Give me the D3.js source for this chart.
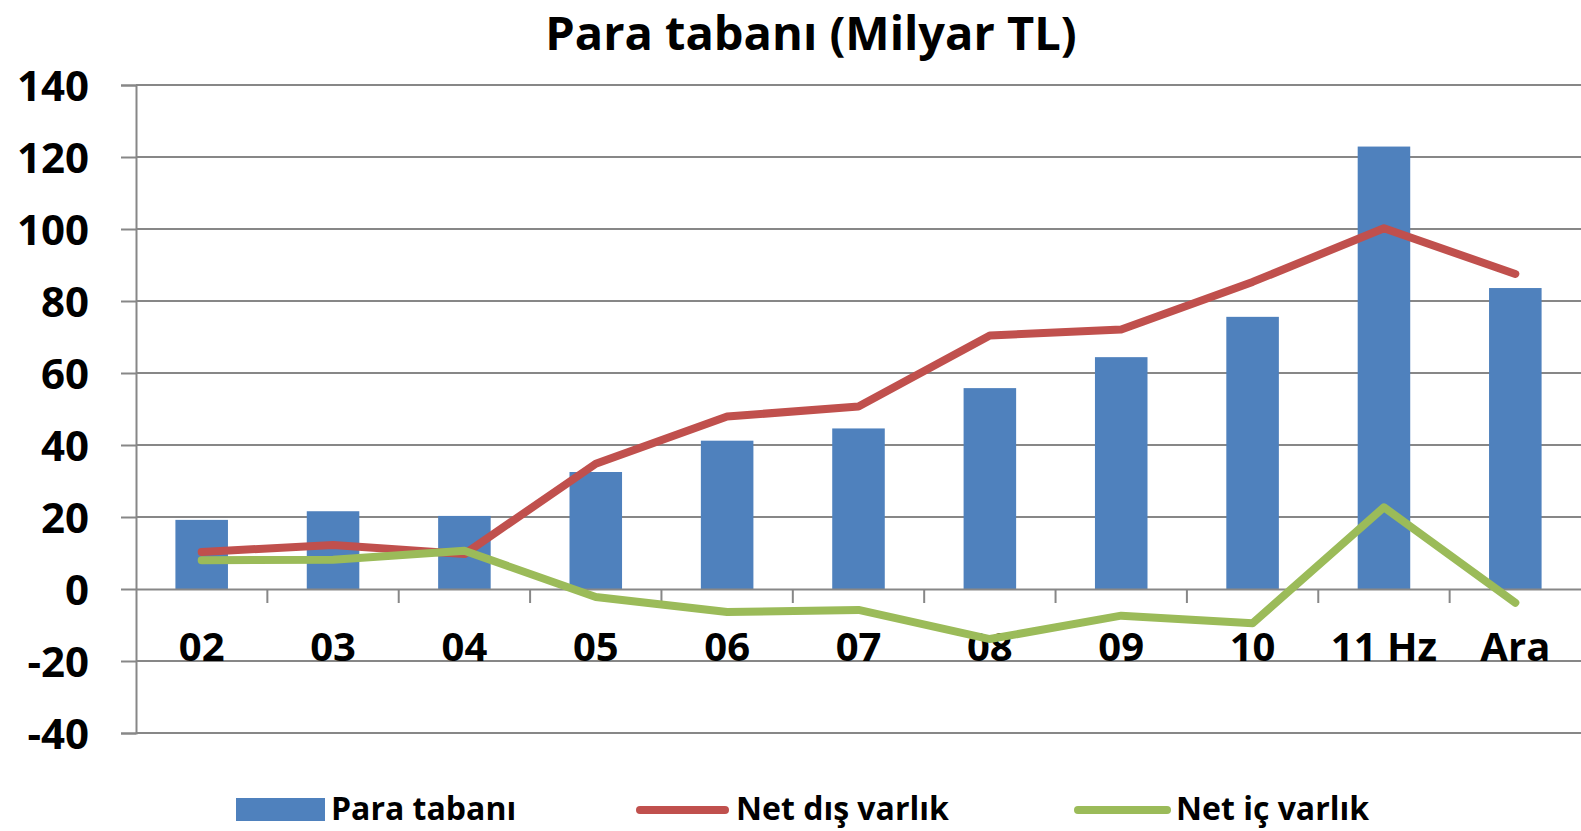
<!DOCTYPE html>
<meta charset="utf-8">
<head>
  <script src="https://d3js.org/d3.v7.min.js"></script>
  <style>
    body { margin: 0; background: #fff; }
    text { font-family: "Open Sans", sans-serif; font-weight: bold; fill: #000; }
  </style>
</head>
<body>
  <div id="chart"></div>
  <script>
    // data
    var categories = ["02", "03", "04", "05", "06", "07", "08", "09", "10", "11 Hz", "Ara"];
    var paraTabani = [19.2, 21.6, 20.3, 32.5, 41.2, 44.6, 55.8, 64.4, 75.6, 122.9, 83.6];
    var netDis = [10.3, 12.2, 9.7, 34.8, 47.9, 50.7, 70.4, 72.1, 85.3, 100.2, 87.5];
    var netIc = [8.0, 8.1, 10.6, -2.2, -6.4, -5.8, -13.9, -7.4, -9.5, 22.7, -3.8];
    var yTicks = [-40, -20, 0, 20, 40, 60, 80, 100, 120, 140];

    var W = 1581, H = 831;
    var margin = { top: 85, right: 0, bottom: 98, left: 136 };

    var svg = d3.select("#chart").append("svg")
      .attr("width", W).attr("height", H);

    var x = d3.scaleBand()
      .domain(categories)
      .range([margin.left, W - margin.right])
      .padding(0);

    var y = d3.scaleLinear()
      .domain([-40, 140])
      .range([H - margin.bottom, margin.top]);

    var gridColor = "#878787";

    // title
    svg.append("text")
      .attr("x", 811).attr("y", 50)
      .attr("text-anchor", "middle")
      .style("font-size", "47px")
      .text("Para tabanı (Milyar TL)");

    // y axis
    var yAxis = svg.append("g")
      .attr("transform", "translate(" + margin.left + ",0)")
      .call(d3.axisLeft(y).tickValues(yTicks).tickSize(15).tickPadding(32)
        .tickFormat(function (d) { return String(d); }));
    yAxis.select(".domain").attr("stroke", gridColor).attr("stroke-width", 2);
    yAxis.selectAll(".tick line").attr("stroke", gridColor).attr("stroke-width", 2);
    yAxis.selectAll(".tick text").style("font-size", "42px").attr("dy", "0.36em");

    // horizontal gridlines
    svg.append("g").selectAll("line")
      .data(yTicks.filter(function (d) { return d !== 0; }))
      .enter().append("line")
      .attr("x1", margin.left).attr("x2", W)
      .attr("y1", function (d) { return y(d); })
      .attr("y2", function (d) { return y(d); })
      .attr("stroke", gridColor).attr("stroke-width", 2);

    // bars
    var bw = x.bandwidth();
    svg.append("g").selectAll("rect")
      .data(paraTabani)
      .enter().append("rect")
      .attr("x", function (d, i) { return x(categories[i]) + bw * 0.3; })
      .attr("width", bw * 0.4)
      .attr("y", function (d) { return y(d); })
      .attr("height", function (d) { return y(0) - y(d); })
      .attr("fill", "#4F81BD");

    // x axis at zero
    var xAxis = svg.append("g")
      .attr("transform", "translate(0," + y(0) + ")")
      .call(d3.axisBottom(x).tickSize(0).tickPadding(44));
    xAxis.select(".domain").attr("stroke", gridColor).attr("stroke-width", 2);
    xAxis.selectAll(".tick text").style("font-size", "40px");

    // category boundary ticks
    svg.append("g").selectAll("line")
      .data(categories.slice(1))
      .enter().append("line")
      .attr("x1", function (d) { return x(d); })
      .attr("x2", function (d) { return x(d); })
      .attr("y1", y(0)).attr("y2", y(0) + 14)
      .attr("stroke", gridColor).attr("stroke-width", 2);

    // lines
    var line = d3.line()
      .x(function (d, i) { return x(categories[i]) + bw / 2; })
      .y(function (d) { return y(d); });

    svg.append("path").datum(netDis)
      .attr("d", line)
      .attr("fill", "none").attr("stroke", "#C0504D")
      .attr("stroke-width", 8).attr("stroke-linecap", "round").attr("stroke-linejoin", "round");

    svg.append("path").datum(netIc)
      .attr("d", line)
      .attr("fill", "none").attr("stroke", "#9BBB59")
      .attr("stroke-width", 8).attr("stroke-linecap", "round").attr("stroke-linejoin", "round");

    // legend
    var ly = 808;
    var legend = svg.append("g");
    legend.append("rect")
      .attr("x", 236).attr("y", ly - 10).attr("width", 89).attr("height", 23)
      .attr("fill", "#4F81BD");
    legend.append("text").attr("x", 331).attr("y", ly).attr("dy", "0.36em")
      .style("font-size", "32px").text("Para tabanı");

    legend.append("line")
      .attr("x1", 640).attr("x2", 725).attr("y1", ly + 2).attr("y2", ly + 2)
      .attr("stroke", "#C0504D").attr("stroke-width", 8).attr("stroke-linecap", "round");
    legend.append("text").attr("x", 736).attr("y", ly).attr("dy", "0.36em")
      .style("font-size", "32px").text("Net dış varlık");

    legend.append("line")
      .attr("x1", 1078).attr("x2", 1167).attr("y1", ly + 2).attr("y2", ly + 2)
      .attr("stroke", "#9BBB59").attr("stroke-width", 8).attr("stroke-linecap", "round");
    legend.append("text").attr("x", 1176).attr("y", ly).attr("dy", "0.36em")
      .style("font-size", "32px").text("Net iç varlık");
  </script>
</body>
